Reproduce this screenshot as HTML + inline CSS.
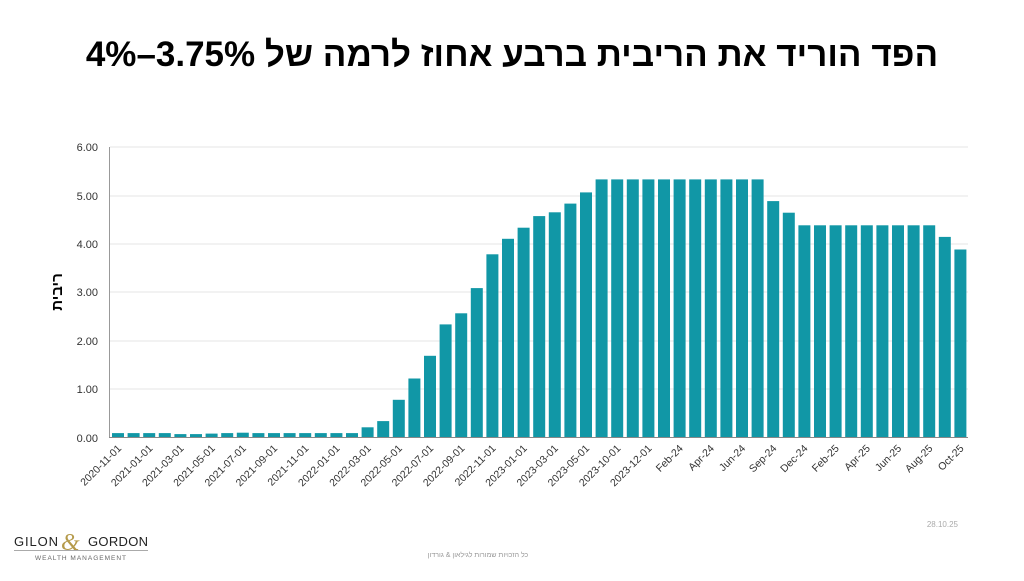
<!DOCTYPE html>
<html><head><meta charset="utf-8"><style>
body{margin:0;background:#fff;width:1024px;height:576px;overflow:hidden;font-family:"Liberation Sans","Noto Sans CJK SC",sans-serif}
</style></head><body>
<svg width="1024" height="576" xmlns="http://www.w3.org/2000/svg" font-family="Liberation Sans, DejaVu Sans, sans-serif">
<text x="512" y="66" text-anchor="middle" font-size="35" font-weight="bold" fill="#000" direction="rtl">הפד הוריד את הריבית ברבע אחוז לרמה של 3.75%–4%</text>
<g stroke="#e6e6e6" stroke-width="1">
<line x1="110" y1="147" x2="968" y2="147"/><line x1="110" y1="196" x2="968" y2="196"/><line x1="110" y1="244" x2="968" y2="244"/><line x1="110" y1="292" x2="968" y2="292"/><line x1="110" y1="341" x2="968" y2="341"/><line x1="110" y1="389" x2="968" y2="389"/>
</g>
<line x1="109.5" y1="147" x2="109.5" y2="438" stroke="#999"/>
<g font-size="11" fill="#333" text-anchor="end">
<text x="98" y="151">6.00</text><text x="98" y="200">5.00</text><text x="98" y="248">4.00</text><text x="98" y="296">3.00</text><text x="98" y="345">2.00</text><text x="98" y="393">1.00</text><text x="98" y="442">0.00</text>
</g>
<text transform="translate(62,292) rotate(-90)" text-anchor="middle" font-size="15" font-weight="bold" direction="rtl">ריבית</text>
<g transform="translate(0,437) scale(1,-1)" fill="#1197a6">
<rect x="112" width="12" height="3.9"/><rect x="127.6" width="12" height="3.9"/><rect x="143.2" width="12" height="3.9"/><rect x="158.8" width="12" height="3.9"/><rect x="174.4" width="12" height="2.9"/><rect x="190" width="12" height="2.9"/><rect x="205.6" width="12" height="3.4"/><rect x="221.2" width="12" height="3.9"/><rect x="236.8" width="12" height="4.3"/><rect x="252.4" width="12" height="3.9"/><rect x="268" width="12" height="3.9"/><rect x="283.6" width="12" height="3.9"/><rect x="299.2" width="12" height="3.9"/><rect x="314.8" width="12" height="3.9"/><rect x="330.4" width="12" height="3.9"/><rect x="346" width="12" height="3.9"/><rect x="361.6" width="12" height="9.7"/><rect x="377.2" width="12" height="15.9"/><rect x="392.8" width="12" height="37.2"/><rect x="408.4" width="12" height="58.5"/><rect x="424" width="12" height="81.2"/><rect x="439.6" width="12" height="112.6"/><rect x="455.2" width="12" height="123.7"/><rect x="470.8" width="12" height="148.9"/><rect x="486.4" width="12" height="182.7"/><rect x="502" width="12" height="198.2"/><rect x="517.6" width="12" height="209.3"/><rect x="533.2" width="12" height="220.9"/><rect x="548.8" width="12" height="224.7"/><rect x="564.4" width="12" height="233.4"/><rect x="580" width="12" height="244.6"/><rect x="595.6" width="12" height="257.6"/><rect x="611.2" width="12" height="257.6"/><rect x="626.8" width="12" height="257.6"/><rect x="642.4" width="12" height="257.6"/><rect x="658" width="12" height="257.6"/><rect x="673.6" width="12" height="257.6"/><rect x="689.2" width="12" height="257.6"/><rect x="704.8" width="12" height="257.6"/><rect x="720.4" width="12" height="257.6"/><rect x="736" width="12" height="257.6"/><rect x="751.6" width="12" height="257.6"/><rect x="767.2" width="12" height="235.9"/><rect x="782.8" width="12" height="224.3"/><rect x="798.4" width="12" height="211.7"/><rect x="814" width="12" height="211.7"/><rect x="829.6" width="12" height="211.7"/><rect x="845.2" width="12" height="211.7"/><rect x="860.8" width="12" height="211.7"/><rect x="876.4" width="12" height="211.7"/><rect x="892" width="12" height="211.7"/><rect x="907.6" width="12" height="211.7"/><rect x="923.2" width="12" height="211.7"/><rect x="938.8" width="12" height="200.1"/><rect x="954.4" width="12" height="187.5"/>
</g>
<line x1="109" y1="437.5" x2="968" y2="437.5" stroke="#888"/>
<g font-size="10.5" fill="#333" text-anchor="end">
<text transform="translate(122,449) rotate(-45)">2020-11-01</text>
<text transform="translate(153.2,449) rotate(-45)">2021-01-01</text>
<text transform="translate(184.4,449) rotate(-45)">2021-03-01</text>
<text transform="translate(215.6,449) rotate(-45)">2021-05-01</text>
<text transform="translate(246.8,449) rotate(-45)">2021-07-01</text>
<text transform="translate(278,449) rotate(-45)">2021-09-01</text>
<text transform="translate(309.2,449) rotate(-45)">2021-11-01</text>
<text transform="translate(340.4,449) rotate(-45)">2022-01-01</text>
<text transform="translate(371.6,449) rotate(-45)">2022-03-01</text>
<text transform="translate(402.8,449) rotate(-45)">2022-05-01</text>
<text transform="translate(434,449) rotate(-45)">2022-07-01</text>
<text transform="translate(465.2,449) rotate(-45)">2022-09-01</text>
<text transform="translate(496.4,449) rotate(-45)">2022-11-01</text>
<text transform="translate(527.6,449) rotate(-45)">2023-01-01</text>
<text transform="translate(558.8,449) rotate(-45)">2023-03-01</text>
<text transform="translate(590,449) rotate(-45)">2023-05-01</text>
<text transform="translate(621.2,449) rotate(-45)">2023-10-01</text>
<text transform="translate(652.4,449) rotate(-45)">2023-12-01</text>
<text transform="translate(683.6,449) rotate(-45)">Feb-24</text>
<text transform="translate(714.8,449) rotate(-45)">Apr-24</text>
<text transform="translate(746,449) rotate(-45)">Jun-24</text>
<text transform="translate(777.2,449) rotate(-45)">Sep-24</text>
<text transform="translate(808.4,449) rotate(-45)">Dec-24</text>
<text transform="translate(839.6,449) rotate(-45)">Feb-25</text>
<text transform="translate(870.8,449) rotate(-45)">Apr-25</text>
<text transform="translate(902,449) rotate(-45)">Jun-25</text>
<text transform="translate(933.2,449) rotate(-45)">Aug-25</text>
<text transform="translate(964.4,449) rotate(-45)">Oct-25</text>
</g>
<text x="958" y="527" text-anchor="end" font-size="8" fill="#aaa">28.10.25</text>
<text x="14" y="546" font-size="13" fill="#222" textLength="44" lengthAdjust="spacing">GILON</text>
<text x="61" y="550" font-size="24" fill="#b59a4a" font-family="Liberation Serif, serif" font-style="italic">&amp;</text>
<text x="88" y="546" font-size="13" fill="#222" textLength="60" lengthAdjust="spacing">GORDON</text>
<line x1="14" y1="550.5" x2="148" y2="550.5" stroke="#aaa"/>
<text x="81" y="560" text-anchor="middle" font-size="6.5" letter-spacing="1" fill="#666">WEALTH MANAGEMENT</text>
<text x="478" y="557" text-anchor="middle" font-size="7" fill="#999" direction="rtl">כל הזכויות שמורות לגילאון &amp; גורדון</text>
</svg>
</body></html>
